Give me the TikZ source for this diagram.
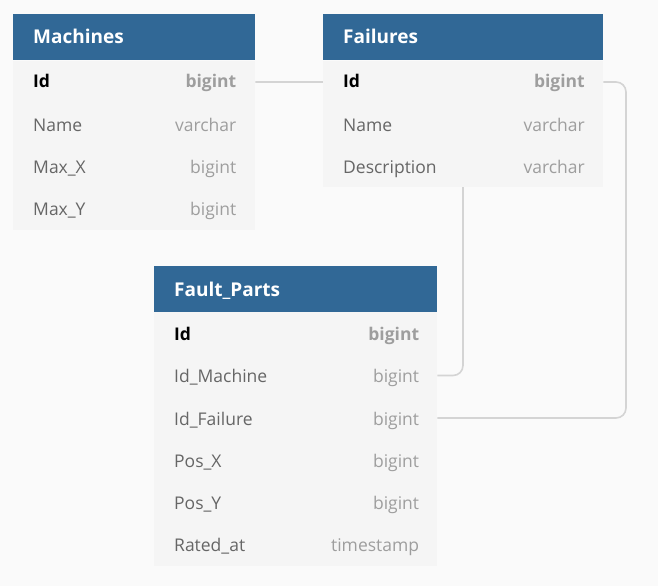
\documentclass[tikz,border=0pt]{standalone}
\usepackage{fontspec}
\setmainfont{Open Sans}
\definecolor{bg}{HTML}{FAFAFA}
\definecolor{hdr}{HTML}{316896}
\definecolor{body}{HTML}{F5F5F5}
\definecolor{fname}{HTML}{666666}
\definecolor{ftype}{HTML}{9E9E9E}
\definecolor{conn}{HTML}{D4D4D4}
\pgfdeclarelayer{canvas}
\pgfdeclarelayer{links}
\pgfsetlayers{canvas,links,main}
\tikzset{
  hdrbox/.style={fill=hdr, draw=none, anchor=north west, inner sep=0pt, minimum height=46pt},
  rowbox/.style={fill=body, draw=none, anchor=west, inner sep=0pt, minimum height=42.5pt},
  hdrtext/.style={anchor=base west, inner sep=0pt, text=white, font=\fontsize{19}{22}\selectfont\bfseries},
  pkname/.style={anchor=base west, inner sep=0pt, text=black, font=\fontsize{17.5}{20}\selectfont\bfseries},
  pktype/.style={anchor=base east, inner sep=0pt, text=ftype, font=\fontsize{17.5}{20}\selectfont\bfseries},
  colname/.style={anchor=base west, inner sep=0pt, text=fname, font=\fontsize{17.5}{20}\selectfont},
  coltype/.style={anchor=base east, inner sep=0pt, text=ftype, font=\fontsize{17.5}{20}\selectfont},
  connector/.style={draw=conn, line width=1.6pt, rounded corners=10pt},
}
\begin{document}
\begin{tikzpicture}[x=1pt,y=-1pt]
\begin{pgfonlayer}{canvas}
\fill[bg] (0,0) rectangle (658,586);
\end{pgfonlayer}
\useasboundingbox (0,0) rectangle (658,586);

% ---------- Machines ----------
\node[hdrbox, minimum width=242pt] (mh) at (13,14) {};
\node[hdrtext] (mht) at (33,44) {Machines};
\node[rowbox, minimum width=242pt] (m-id) at (13,82) {};
\node[rowbox, minimum width=242pt] (m-name) at (13,124.5) {};
\node[rowbox, minimum width=242pt] (m-mx) at (13,167) {};
\node[rowbox, minimum width=242pt] (m-my) at (13,209) {};

% ---------- Failures ----------
\node[hdrbox, minimum width=280pt] (fh) at (323,14) {};
\node[hdrtext] (fht) at (343,44) {Failures};
\node[rowbox, minimum width=280pt] (f-id) at (323,82) {};
\node[rowbox, minimum width=280pt] (f-name) at (323,124.5) {};
\node[rowbox, minimum width=280pt] (f-desc) at (323,166) {};

% ---------- Fault_Parts ----------
\node[hdrbox, minimum width=283pt] (ph) at (154,266) {};
\node[hdrtext] (pht) at (174,296) {Fault\_Parts};
\node[rowbox, minimum width=283pt] (p-id) at (154,333.5) {};
\node[rowbox, minimum width=283pt] (p-mach) at (154,375.5) {};
\node[rowbox, minimum width=283pt] (p-fail) at (154,418) {};
\node[rowbox, minimum width=283pt] (p-px) at (154,460) {};
\node[rowbox, minimum width=283pt] (p-py) at (154,502.5) {};
\node[rowbox, minimum width=283pt] (p-rat) at (154,545) {};

% ---------- connectors (under the tables) ----------
\coordinate (bendA) at (463,0);
\coordinate (bendB) at (626,0);
\begin{pgfonlayer}{links}
\draw[connector] (m-id.east) -- (m-id.east -| bendA) |- (p-mach.east);
\draw[connector] (f-id.east) -- (f-id.east -| bendB) |- (p-fail.east);
\end{pgfonlayer}

% ---------- texts ----------
\node[pkname] (mt1) at (33,88) {Id};
\node[pktype] (my1) at (236.5,88) {bigint};
\node[colname] (mt2) at (33,131) {Name};
\node[coltype] (my2) at (236.5,131) {varchar};
\node[colname] (mt3) at (33,173.3) {Max\_X};
\node[coltype] (my3) at (236.5,173.3) {bigint};
\node[colname] (mt4) at (33,215.7) {Max\_Y};
\node[coltype] (my4) at (236.5,215.7) {bigint};

\node[pkname] (ft1) at (343,88) {Id};
\node[pktype] (fy1) at (585,88) {bigint};
\node[colname] (ft2) at (343,131) {Name};
\node[coltype] (fy2) at (585,131) {varchar};
\node[colname] (ft3) at (343,173.3) {Description};
\node[coltype] (fy3) at (585,173.3) {varchar};

\node[pkname] (pt1) at (174,340) {Id};
\node[pktype] (py1) at (419.3,340) {bigint};
\node[colname] (pt2) at (174,382) {Id\_Machine};
\node[coltype] (py2) at (419.3,382) {bigint};
\node[colname] (pt3) at (174,425) {Id\_Failure};
\node[coltype] (py3) at (419.3,425) {bigint};
\node[colname] (pt4) at (174,467.3) {Pos\_X};
\node[coltype] (py4) at (419.3,467.3) {bigint};
\node[colname] (pt5) at (174,509.3) {Pos\_Y};
\node[coltype] (py5) at (419.3,509.3) {bigint};
\node[colname] (pt6) at (174,551.7) {Rated\_at};
\node[coltype] (py6) at (419.3,551.7) {timestamp};
\end{tikzpicture}
\end{document}
